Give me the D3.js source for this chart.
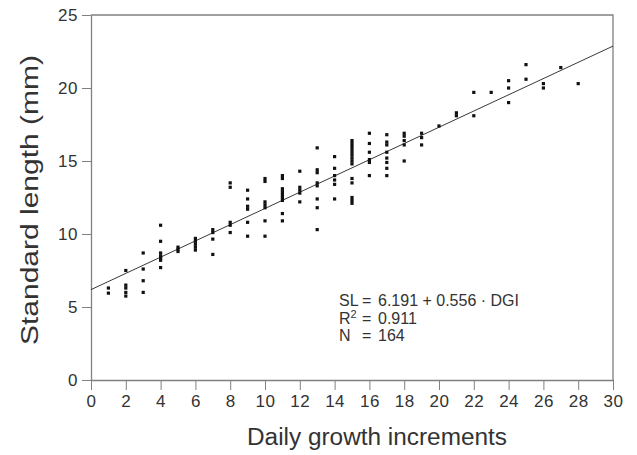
<!DOCTYPE html>
<html>
<head>
<meta charset="utf-8">
<script src="https://cdn.jsdelivr.net/npm/d3@7"></script>
<style>
  body { margin: 0; background: #fff; }
  text { font-family: "Liberation Sans", Arial, Helvetica, sans-serif; fill: #333; }
</style>
</head>
<body>
<svg id="chart" width="637" height="455"></svg>
<script>
// daily growth increments (x) and standard length in mm (y)
const dgi = [
  1, 1,
  2, 2, 2, 2, 2,
  3, 3, 3, 3,
  4, 4, 4, 4, 4, 4, 4,
  5, 5, 5,
  6, 6, 6, 6, 6,
  7, 7, 7, 7,
  8, 8, 8, 8, 8,
  9, 9, 9, 9, 9, 9,
  10, 10, 10, 10, 10, 10, 10,
  11, 11, 11, 11, 11, 11, 11, 11, 11,
  12, 12, 12, 12, 12,
  13, 13, 13, 13, 13, 13, 13, 13,
  14, 14, 14, 14, 14, 14,
  15, 15, 15, 15, 15, 15, 15, 15, 15, 15, 15, 15, 15, 15,
  16, 16, 16, 16, 16, 16,
  17, 17, 17, 17, 17, 17, 17, 17,
  18, 18, 18, 18, 18,
  19, 19, 19,
  20,
  21, 21,
  22, 22,
  23,
  24, 24, 24,
  25, 25,
  26, 26,
  27,
  28
];
const sl = [
  6.3, 5.95,
  7.5, 6.5, 6.3, 6.0, 5.75,
  8.7, 7.6, 6.8, 6.0,
  10.6, 9.5, 8.7, 8.5, 8.35, 8.2, 7.7,
  9.1, 8.95, 8.8,
  9.7, 9.5, 9.3, 9.1, 8.9,
  10.3, 10.1, 9.65, 8.6,
  13.5, 13.2, 10.8, 10.6, 10.1,
  13.0, 12.4, 11.9, 11.7, 10.8, 9.85,
  13.8, 13.6, 12.2, 12.0, 11.8, 10.9, 9.85,
  14.0, 13.8, 13.1, 12.9, 12.7, 12.5, 12.3, 11.4, 10.9,
  14.3, 13.2, 13.0, 12.8, 12.2,
  15.9, 14.4, 14.2, 13.5, 13.3, 12.4, 11.8, 10.3,
  15.3, 14.5, 14.0, 13.7, 13.4, 12.4,
  16.4, 16.2, 16.0, 15.8, 15.6, 15.4, 15.2, 15.0, 14.8, 13.8, 13.5, 12.5, 12.3, 12.1,
  16.9, 16.2, 15.6, 15.1, 14.9, 14.0,
  16.8, 16.3, 16.1, 15.6, 15.2, 14.9, 14.5, 14.0,
  16.9, 16.7, 16.4, 16.1, 15.0,
  16.9, 16.6, 16.1,
  17.4,
  18.3, 18.1,
  19.7, 18.1,
  19.7,
  20.5, 20.0, 19.0,
  21.6, 20.6,
  20.3, 20.0,
  21.4,
  20.3
];
const xTicks = [0, 2, 4, 6, 8, 10, 12, 14, 16, 18, 20, 22, 24, 26, 28, 30];
const yTicks = [0, 5, 10, 15, 20, 25];
const fitIntercept = 6.191;
const fitSlope = 0.556;
const statLines = ["SL", "R", "N"];
const statValues = ["6.191 + 0.556 \u00b7 DGI", "0.911", "164"];

const points = dgi.map((d, i) => ({x: d, y: sl[i]}));

const margin = {top: 15, right: 24, bottom: 75, left: 91};
const width = 637 - margin.left - margin.right;
const height = 455 - margin.top - margin.bottom;

const svg = d3.select("#chart");
const chart = svg.append("g")
    .attr("transform", "translate(" + margin.left + "," + margin.top + ")");

const x = d3.scaleLinear().domain([0, 30]).range([0, width]);
const y = d3.scaleLinear().domain([0, 25]).range([height, 0]);

const axisColor = "#808080";

// frame (top and right)
chart.append("path")
    .attr("d", "M" + x(0) + "," + y(25) + "H" + x(30) + "V" + y(0))
    .attr("fill", "none")
    .attr("stroke", axisColor)
    .attr("stroke-width", 1.3);

// x axis
const xAxis = chart.append("g")
    .attr("transform", "translate(0," + height + ")")
    .call(d3.axisBottom(x).tickValues(xTicks).tickSizeInner(10).tickSizeOuter(0).tickPadding(5));
xAxis.select(".domain").attr("stroke", axisColor).attr("stroke-width", 1.3);
xAxis.selectAll(".tick line").attr("stroke", axisColor);
xAxis.selectAll(".tick text").style("font-size", "17px").style("letter-spacing", "0.5px").attr("fill", "#333");

// y axis
const yAxis = chart.append("g")
    .call(d3.axisLeft(y).tickValues(yTicks).tickSizeInner(9).tickSizeOuter(0).tickPadding(4));
yAxis.select(".domain").attr("stroke", axisColor).attr("stroke-width", 1.3);
yAxis.selectAll(".tick line").attr("stroke", axisColor);
yAxis.selectAll(".tick text").style("font-size", "17px").style("letter-spacing", "0.5px").attr("fill", "#333");

// axis titles
svg.append("text")
    .attr("x", 377)
    .attr("y", 445)
    .attr("text-anchor", "middle")
    .attr("textLength", 260)
    .attr("lengthAdjust", "spacingAndGlyphs")
    .style("font-size", "23px")
    .text("Daily growth increments");

svg.append("text")
    .attr("transform", "translate(38,200) rotate(-90)")
    .attr("text-anchor", "middle")
    .attr("textLength", 290)
    .attr("lengthAdjust", "spacingAndGlyphs")
    .style("font-size", "23px")
    .text("Standard length (mm)");

// regression line
chart.append("path")
    .datum([0, 30])
    .attr("fill", "none")
    .attr("stroke", "#222")
    .attr("stroke-width", 0.9)
    .attr("d", d3.line()
        .x((d) => { return x(d); })
        .y((d) => { return y(fitIntercept + fitSlope * d); }));

// points
chart.selectAll("rect.pt")
    .data(points)
    .enter().append("rect")
    .attr("class", "pt")
    .attr("x", (d) => { return x(d.x) - 1.6; })
    .attr("y", (d) => { return y(d.y) - 1.6; })
    .attr("width", 3.2)
    .attr("height", 3.2)
    .attr("fill", "#111");

// equation block
const stats = svg.append("g").style("font-size", "16px");
statLines.forEach((lab, i) => {
    const by = 306 + i * 17.5;
    const t = stats.append("text").attr("x", 339).attr("y", by);
    t.append("tspan").text(lab);
    if (lab === "R") {
        t.append("tspan").attr("dy", -6).style("font-size", "11px").text("2");
    }
    stats.append("text").attr("x", 362).attr("y", by).text("=");
    stats.append("text").attr("x", 378).attr("y", by).text(statValues[i]);
});
</script>
</body>
</html>
